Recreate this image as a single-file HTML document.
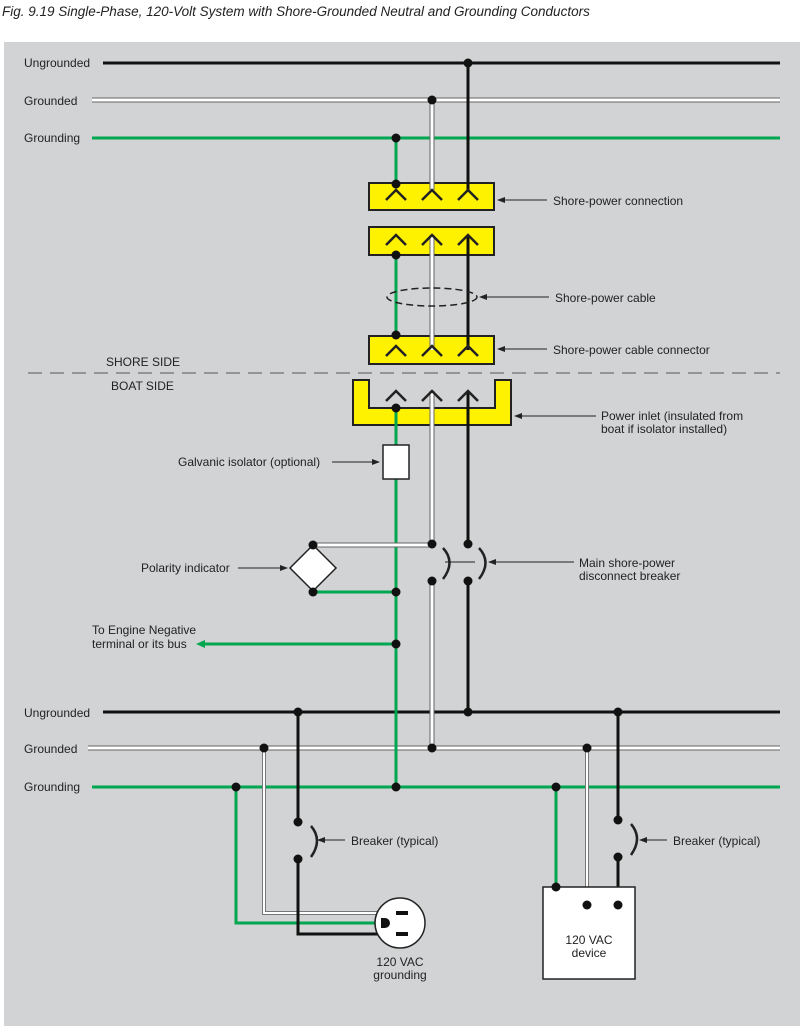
<!DOCTYPE html>
<html><head><style>body{margin:0;background:#fff}</style></head><body>
<svg width="800" height="1026" xmlns="http://www.w3.org/2000/svg" font-family="Liberation Sans, sans-serif" font-size="12">
<text x="2" y="16" font-style="italic" font-size="13.5" fill="#222">Fig. 9.19 Single-Phase, 120-Volt System with Shore-Grounded Neutral and Grounding Conductors</text>
<rect x="4" y="42" width="796" height="984" fill="#d1d3d4"/>
<defs>
<marker id="a" markerWidth="8" markerHeight="6" refX="7" refY="3" orient="auto"><path d="M0,0L8,3L0,6z" fill="#222"/></marker>
</defs>
<g fill="#222">
<text x="24" y="67">Ungrounded</text><text x="24" y="105">Grounded</text><text x="24" y="142">Grounding</text>
<text x="24" y="717">Ungrounded</text><text x="24" y="753">Grounded</text><text x="24" y="791">Grounding</text>
<text x="553" y="205">Shore-power connection</text>
<text x="555" y="302">Shore-power cable</text>
<text x="553" y="354">Shore-power cable connector</text>
<text x="106" y="366">SHORE SIDE</text><text x="111" y="390">BOAT SIDE</text>
<text x="601" y="420">Power inlet (insulated from</text><text x="601" y="433">boat if isolator installed)</text>
<text x="178" y="466">Galvanic isolator (optional)</text>
<text x="141" y="572">Polarity indicator</text>
<text x="579" y="567">Main shore-power</text><text x="579" y="580">disconnect breaker</text>
<text x="92" y="634">To Engine Negative</text><text x="92" y="648">terminal or its bus</text>
<text x="351" y="845">Breaker (typical)</text><text x="673" y="845">Breaker (typical)</text>
<text x="400" y="966" text-anchor="middle">120 VAC</text><text x="400" y="979" text-anchor="middle">grounding</text>
</g>
<g stroke="#222" stroke-width="1" fill="none">
<line x1="547" y1="200" x2="498" y2="200" marker-end="url(#a)"/>
<line x1="549" y1="297" x2="480" y2="297" marker-end="url(#a)"/>
<line x1="547" y1="349" x2="498" y2="349" marker-end="url(#a)"/>
<line x1="596" y1="416" x2="515" y2="416" marker-end="url(#a)"/>
<line x1="332" y1="462" x2="379" y2="462" marker-end="url(#a)"/>
<line x1="238" y1="568" x2="287" y2="568" marker-end="url(#a)"/>
<line x1="574" y1="562" x2="489" y2="562" marker-end="url(#a)"/>
<line x1="345" y1="840" x2="318" y2="840" marker-end="url(#a)"/>
<line x1="667" y1="840" x2="640" y2="840" marker-end="url(#a)"/>
<line x1="445" y1="562" x2="475" y2="562"/>
</g>
<line x1="28" y1="373" x2="780" y2="373" stroke="#555" stroke-dasharray="14,8"/>
<g stroke-width="3" fill="none">
<line x1="103" y1="63" x2="780" y2="63" stroke="#111"/>
<line x1="92" y1="100" x2="780" y2="100" stroke="#666" stroke-width="5"/>
<line x1="92" y1="100" x2="780" y2="100" stroke="#fff" stroke-width="3"/>
<line x1="92" y1="138" x2="780" y2="138" stroke="#00a650"/>
<line x1="103" y1="712" x2="780" y2="712" stroke="#111"/>
<line x1="88" y1="748" x2="780" y2="748" stroke="#666" stroke-width="5"/>
<line x1="88" y1="748" x2="780" y2="748" stroke="#fff" stroke-width="3"/>
<line x1="92" y1="787" x2="780" y2="787" stroke="#00a650"/>
</g>
<g fill="#fff200" stroke="#222" stroke-width="2">
<rect x="369" y="183" width="125" height="27"/>
<rect x="369" y="227" width="125" height="28"/>
<rect x="369" y="336" width="125" height="28"/>
<path d="M353,380H369V408H495V380H511V425H353Z"/>
</g>
<g fill="none" stroke-width="3">
<path d="M396,138V184M396,255V336M396,408V787" stroke="#00a650"/>
<path d="M468,63V190M468,235V350M468,391V544M468,581V712" stroke="#111"/>
<path d="M432,100V190M432,235V350M432,391V544M432,581V748M313,545H432" stroke="#666" stroke-width="5"/>
<path d="M432,100V190M432,235V350M432,391V544M432,581V748M313,545H432" stroke="#fff" stroke-width="3"/>
<path d="M313,592H396M396,644H205" stroke="#00a650"/>
<path d="M236,787V923H392M556,787V887" stroke="#00a650"/>
<path d="M264,748V913H403M587,748V905" stroke="#777" stroke-width="4"/>
<path d="M264,748V913H403M587,748V905" stroke="#fff" stroke-width="2"/>
<path d="M298,712V822M298,859V934H403M618,712V820M618,857V905" stroke="#111"/>
</g>
<path d="M205,640L196,644L205,648Z" fill="#00a650"/>
<g fill="none" stroke="#222" stroke-width="2.5">
<path d="M386,200L396,190L406,200M422,200L432,190L442,200M458,200L468,190L478,200"/>
<path d="M386,245L396,235L406,245M422,245L432,235L442,245M458,245L468,235L478,245"/>
<path d="M386,356L396,346L406,356M422,356L432,346L442,356M458,356L468,346L478,356"/>
<path d="M386,401L396,391L406,401M422,401L432,391L442,401M458,401L468,391L478,401"/>
<path d="M443,548Q456,562 443,579M479,548Q492,562 479,579"/>
<path d="M311,826Q323,840 311,857M631,824Q643,838 631,855"/>
</g>
<ellipse cx="432" cy="297" rx="45" ry="9" fill="none" stroke="#222" stroke-width="1.5" stroke-dasharray="7,4"/>
<rect x="383" y="445" width="26" height="34" fill="#fff" stroke="#222" stroke-width="1.5"/>
<path d="M313,545L336,568L313,591L290,568Z" fill="#fff" stroke="#222" stroke-width="1.5"/>
<circle cx="400" cy="923" r="25" fill="#fff" stroke="#222" stroke-width="1.5"/>
<rect x="396" y="911" width="12" height="4" fill="#111"/><rect x="396" y="932" width="12" height="4" fill="#111"/>
<path d="M381,918h4a5,5 0 0 1 0,10h-4z" fill="#111"/>
<rect x="543" y="887" width="92" height="92" fill="#fff" stroke="#222" stroke-width="1.5"/>
<text x="589" y="944" text-anchor="middle" fill="#222">120 VAC</text><text x="589" y="957" text-anchor="middle" fill="#222">device</text>
<g fill="#111">
<circle cx="468" cy="63" r="4.5"/><circle cx="432" cy="100" r="4.5"/><circle cx="396" cy="138" r="4.5"/>
<circle cx="396" cy="184" r="4.5"/><circle cx="396" cy="255" r="4.5"/><circle cx="396" cy="335" r="4.5"/><circle cx="396" cy="408" r="4.5"/>
<circle cx="313" cy="545" r="4.5"/><circle cx="313" cy="592" r="4.5"/><circle cx="396" cy="592" r="4.5"/><circle cx="396" cy="644" r="4.5"/>
<circle cx="432" cy="544" r="4.5"/><circle cx="432" cy="581" r="4.5"/><circle cx="468" cy="544" r="4.5"/><circle cx="468" cy="581" r="4.5"/>
<circle cx="298" cy="712" r="4.5"/><circle cx="468" cy="712" r="4.5"/><circle cx="618" cy="712" r="4.5"/>
<circle cx="264" cy="748" r="4.5"/><circle cx="432" cy="748" r="4.5"/><circle cx="587" cy="748" r="4.5"/>
<circle cx="236" cy="787" r="4.5"/><circle cx="396" cy="787" r="4.5"/><circle cx="556" cy="787" r="4.5"/>
<circle cx="298" cy="822" r="4.5"/><circle cx="298" cy="859" r="4.5"/><circle cx="618" cy="820" r="4.5"/><circle cx="618" cy="857" r="4.5"/>
<circle cx="556" cy="887" r="4.5"/><circle cx="587" cy="905" r="4.5"/><circle cx="618" cy="905" r="4.5"/>
</g>
</svg>
</body></html>
